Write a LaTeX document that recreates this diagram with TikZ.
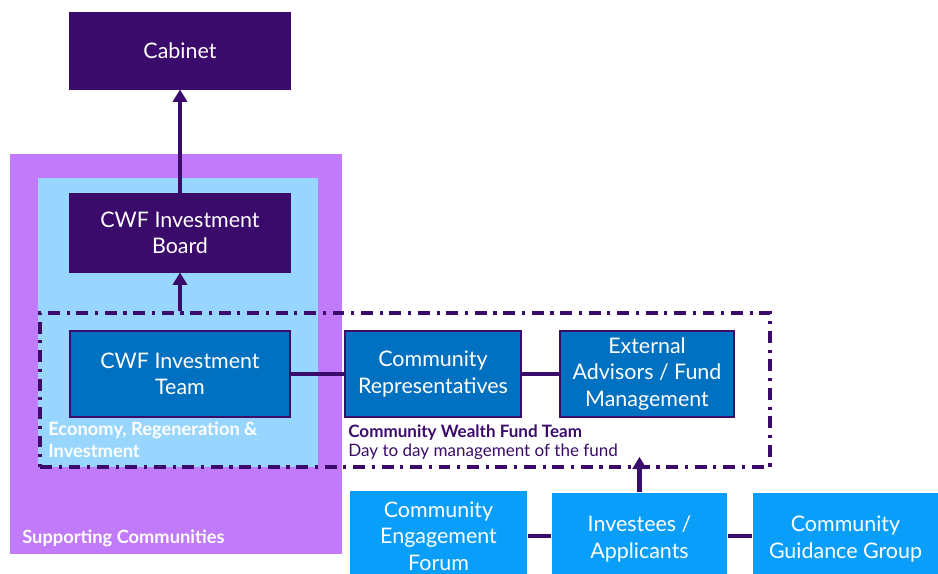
\documentclass[tikz,border=0pt]{standalone}
\usepackage{fontspec}
\setmainfont{Lato}
\usetikzlibrary{arrows.meta,calc}

\definecolor{cwfpurple}{RGB}{59,11,108}
\definecolor{lilac}{RGB}{192,122,250}
\definecolor{paleblue}{RGB}{153,214,255}
\definecolor{teamblue}{RGB}{0,112,192}
\definecolor{skyblue}{RGB}{8,158,250}

\begin{document}
\begin{tikzpicture}[x=0.02cm,y=-0.02cm,
	box/.style={draw=cwfpurple,line width=0.6pt,text=white,align=center,inner sep=0pt,font=\fontsize{12.2}{15}\selectfont},
	board/.style={box,fill=cwfpurple,minimum width=4.4cm},
	team/.style={box,fill=teamblue,minimum height=1.72cm},
	outreach/.style={box,draw=none,fill=skyblue,minimum height=1.84cm},
	link/.style={draw=cwfpurple,line width=2.4pt},
	uparrow/.style={link,-{Triangle[width=8pt,length=7pt]}},
	areatext/.style={anchor=north west,align=left,text=white,inner sep=0pt,font=\fontsize{10.4}{12}\selectfont\bfseries}
	]
	\useasboundingbox (0,0) rectangle (938,574);
	\clip (0,0) rectangle (938,574);

	% service areas
	\fill[lilac] (10,154) rectangle (342,554);
	\fill[paleblue] (38,178) rectangle (318,467);
	\node[areatext] (erilabel) at (48,422) {Economy, Regeneration \&\\Investment};
	\node[areatext] (sclabel) at (22,530) {Supporting Communities};

	% fund team boundary
	\node[draw=cwfpurple,line width=2.2pt,dash pattern=on 6.8pt off 3.8pt on 1.8pt off 3.8pt,
		minimum width=14.6cm,minimum height=3.08cm,inner sep=0pt] (fundteam) at (405,390) {};
	\node[anchor=north west,align=left,inner sep=0pt,text=cwfpurple,font=\fontsize{9.7}{11.3}\selectfont]
		(fundlabel) at (348,424) {\textbf{Community Wealth Fund Team}\\Day to day management of the fund};

	% governance
	\node[board,minimum height=1.52cm] (cabinet) at (180,51) {Cabinet};
	\node[board,minimum height=1.56cm] (invboard) at (180,233) {CWF Investment\\Board};

	% fund team members
	\node[team,minimum width=4.4cm] (invteam) at (180,374) {CWF Investment\\Team};
	\node[team,minimum width=3.52cm] (commreps) at (433,374) {Community\\Representatives};
	\node[team,minimum width=3.48cm] (advisors) at (647,374) {External\\Advisors / Fund\\Management};

	% community side
	\node[outreach,minimum width=3.54cm,minimum height=1.8cm] (forum) at (438.5,536) {Community\\Engagement\\Forum};
	\node[outreach,minimum width=3.5cm] (investees) at (639.5,539) {Investees /\\Applicants};
	\node[outreach,minimum width=3.7cm] (guidance) at (845.5,539) {Community\\Guidance Group};

	% connectors
	\draw[uparrow] (invboard) -- (cabinet);
	\draw[uparrow] (invboard.south |- fundteam.north) -- (invboard);
	\draw[link] (invteam) -- (commreps);
	\draw[link] (commreps) -- (advisors);
	\draw[link] (forum.east |- 0,536) -- (investees.west |- 0,536);
	\draw[link] (investees.east |- 0,536) -- (guidance.west |- 0,536);
	\draw[uparrow] (investees.north) -- ($(investees.north |- fundteam.south)+(0,-12)$);
\end{tikzpicture}
\end{document}
